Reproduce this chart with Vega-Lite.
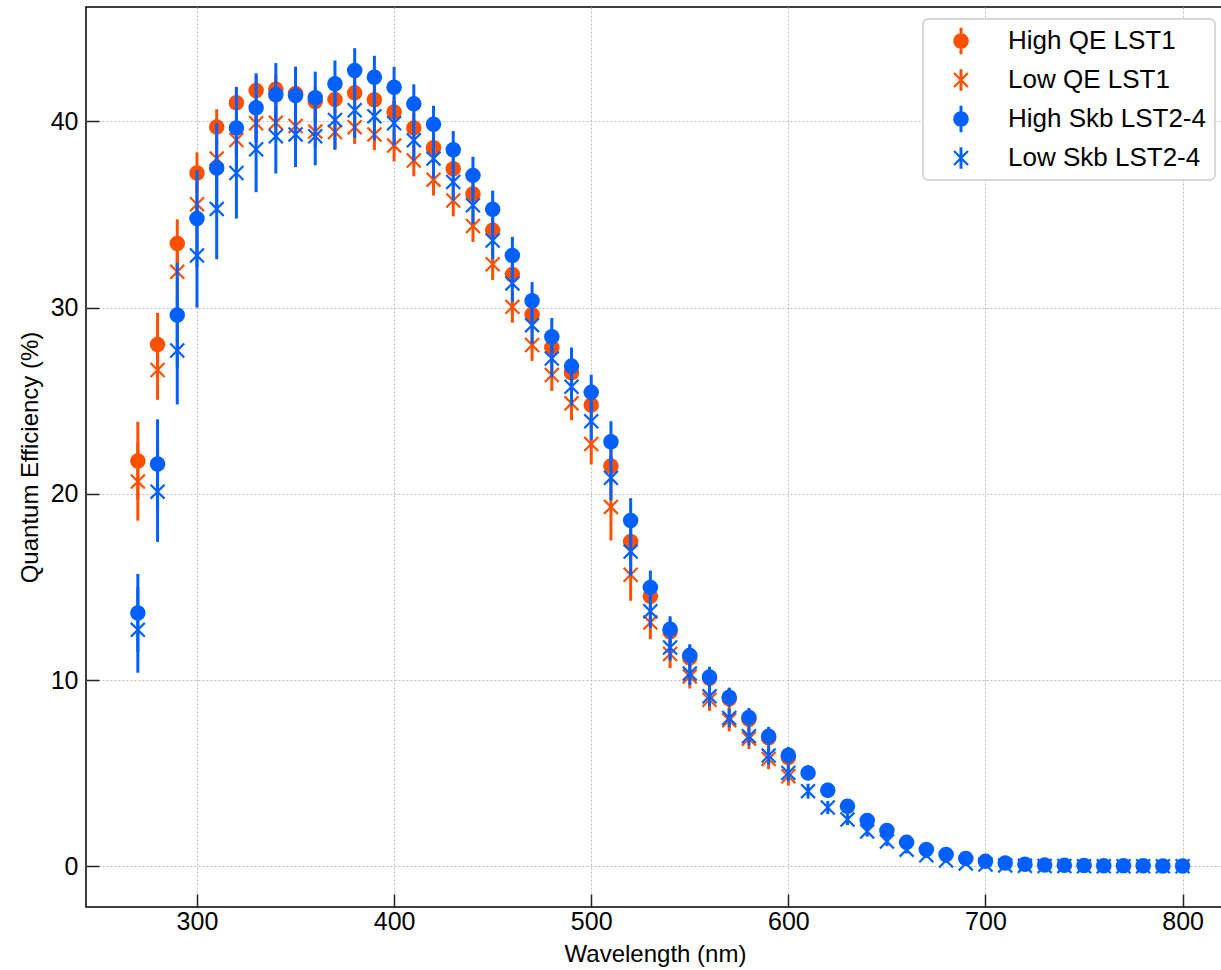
{
  "$schema": "https://vega.github.io/schema/vega-lite/v6.json",
  "autosize": "none",
  "padding": {"left": 86, "top": 7, "right": 0, "bottom": 63},
  "width": 1138,
  "height": 900,
  "background": "white",
  "config": {
    "font": "Liberation Sans",
    "view": {"stroke": "black", "strokeWidth": 1.5},
    "axis": {
      "domain": false,
      "grid": true,
      "gridColor": "#bdbdbd",
      "gridDash": [2, 2],
      "gridWidth": 1,
      "tickColor": "#222222",
      "tickWidth": 1.5,
      "tickSize": -13,
      "labelFontSize": 25,
      "labelColor": "black",
      "titleFontSize": 24,
      "titleFontWeight": "normal",
      "titleColor": "black"
    },
    "legend": {
      "orient": "none",
      "legendX": 837,
      "legendY": 12,
      "title": null,
      "labelFontSize": 26,
      "labelColor": "black",
      "labelLimit": 400,
      "symbolSize": 240,
      "symbolStrokeWidth": 0,
      "padding": 9,
      "rowPadding": 12,
      "symbolOffset": 16,
      "labelOffset": 34,
      "strokeColor": "#cccccc",
      "strokeWidth": 1.5,
      "cornerRadius": 5,
      "fillColor": "white"
    }
  },
  "data": {
    "values": [
      {"series": "High QE LST1", "wl": 270, "qe": 21.77, "err": 2.1},
      {"series": "High QE LST1", "wl": 280, "qe": 28.02, "err": 1.7},
      {"series": "High QE LST1", "wl": 290, "qe": 33.44, "err": 1.3},
      {"series": "High QE LST1", "wl": 300, "qe": 37.23, "err": 1.1},
      {"series": "High QE LST1", "wl": 310, "qe": 39.7, "err": 0.95},
      {"series": "High QE LST1", "wl": 320, "qe": 41.0, "err": 0.85},
      {"series": "High QE LST1", "wl": 330, "qe": 41.66, "err": 0.8},
      {"series": "High QE LST1", "wl": 340, "qe": 41.73, "err": 0.8},
      {"series": "High QE LST1", "wl": 350, "qe": 41.5, "err": 0.8},
      {"series": "High QE LST1", "wl": 360, "qe": 41.07, "err": 0.8},
      {"series": "High QE LST1", "wl": 370, "qe": 41.18, "err": 0.8},
      {"series": "High QE LST1", "wl": 380, "qe": 41.53, "err": 0.8},
      {"series": "High QE LST1", "wl": 390, "qe": 41.16, "err": 0.8},
      {"series": "High QE LST1", "wl": 400, "qe": 40.5, "err": 0.8},
      {"series": "High QE LST1", "wl": 410, "qe": 39.65, "err": 0.8},
      {"series": "High QE LST1", "wl": 420, "qe": 38.58, "err": 0.8},
      {"series": "High QE LST1", "wl": 430, "qe": 37.46, "err": 0.8},
      {"series": "High QE LST1", "wl": 440, "qe": 36.1, "err": 0.8},
      {"series": "High QE LST1", "wl": 450, "qe": 34.15, "err": 0.8},
      {"series": "High QE LST1", "wl": 460, "qe": 31.78, "err": 0.8},
      {"series": "High QE LST1", "wl": 470, "qe": 29.63, "err": 0.8},
      {"series": "High QE LST1", "wl": 480, "qe": 27.86, "err": 0.8},
      {"series": "High QE LST1", "wl": 490, "qe": 26.5, "err": 0.8},
      {"series": "High QE LST1", "wl": 500, "qe": 24.77, "err": 0.8},
      {"series": "High QE LST1", "wl": 510, "qe": 21.5, "err": 0.9},
      {"series": "High QE LST1", "wl": 520, "qe": 17.44, "err": 1.0},
      {"series": "High QE LST1", "wl": 530, "qe": 14.5, "err": 0.8},
      {"series": "High QE LST1", "wl": 540, "qe": 12.6, "err": 0.7},
      {"series": "High QE LST1", "wl": 550, "qe": 11.2, "err": 0.65},
      {"series": "High QE LST1", "wl": 560, "qe": 10.1, "err": 0.6},
      {"series": "High QE LST1", "wl": 570, "qe": 9.0, "err": 0.6},
      {"series": "High QE LST1", "wl": 580, "qe": 7.9, "err": 0.55},
      {"series": "High QE LST1", "wl": 590, "qe": 6.9, "err": 0.55},
      {"series": "High QE LST1", "wl": 600, "qe": 5.85, "err": 0.5},

      {"series": "Low QE LST1", "wl": 270, "qe": 20.66, "err": 2.1},
      {"series": "Low QE LST1", "wl": 280, "qe": 26.65, "err": 1.6},
      {"series": "Low QE LST1", "wl": 290, "qe": 31.92, "err": 1.4},
      {"series": "Low QE LST1", "wl": 300, "qe": 35.55, "err": 1.2},
      {"series": "Low QE LST1", "wl": 310, "qe": 38.0, "err": 1.0},
      {"series": "Low QE LST1", "wl": 320, "qe": 39.0, "err": 0.9},
      {"series": "Low QE LST1", "wl": 330, "qe": 39.9, "err": 0.9},
      {"series": "Low QE LST1", "wl": 340, "qe": 39.93, "err": 0.9},
      {"series": "Low QE LST1", "wl": 350, "qe": 39.75, "err": 0.9},
      {"series": "Low QE LST1", "wl": 360, "qe": 39.45, "err": 0.9},
      {"series": "Low QE LST1", "wl": 370, "qe": 39.43, "err": 0.9},
      {"series": "Low QE LST1", "wl": 380, "qe": 39.69, "err": 0.9},
      {"series": "Low QE LST1", "wl": 390, "qe": 39.3, "err": 0.85},
      {"series": "Low QE LST1", "wl": 400, "qe": 38.7, "err": 0.85},
      {"series": "Low QE LST1", "wl": 410, "qe": 37.9, "err": 0.85},
      {"series": "Low QE LST1", "wl": 420, "qe": 36.87, "err": 0.85},
      {"series": "Low QE LST1", "wl": 430, "qe": 35.75, "err": 0.85},
      {"series": "Low QE LST1", "wl": 440, "qe": 34.38, "err": 0.85},
      {"series": "Low QE LST1", "wl": 450, "qe": 32.33, "err": 0.85},
      {"series": "Low QE LST1", "wl": 460, "qe": 30.04, "err": 0.85},
      {"series": "Low QE LST1", "wl": 470, "qe": 27.99, "err": 0.85},
      {"series": "Low QE LST1", "wl": 480, "qe": 26.38, "err": 0.85},
      {"series": "Low QE LST1", "wl": 490, "qe": 24.86, "err": 0.9},
      {"series": "Low QE LST1", "wl": 500, "qe": 22.68, "err": 1.1},
      {"series": "Low QE LST1", "wl": 510, "qe": 19.3, "err": 1.8},
      {"series": "Low QE LST1", "wl": 520, "qe": 15.66, "err": 1.4},
      {"series": "Low QE LST1", "wl": 530, "qe": 13.1, "err": 0.9},
      {"series": "Low QE LST1", "wl": 540, "qe": 11.4, "err": 0.75},
      {"series": "Low QE LST1", "wl": 550, "qe": 10.2, "err": 0.65},
      {"series": "Low QE LST1", "wl": 560, "qe": 8.95, "err": 0.6},
      {"series": "Low QE LST1", "wl": 570, "qe": 7.85, "err": 0.6},
      {"series": "Low QE LST1", "wl": 580, "qe": 6.85, "err": 0.55},
      {"series": "Low QE LST1", "wl": 590, "qe": 5.77, "err": 0.55},
      {"series": "Low QE LST1", "wl": 600, "qe": 4.84, "err": 0.5},

      {"series": "High Skb LST2-4", "wl": 270, "qe": 13.6, "err": 2.1},
      {"series": "High Skb LST2-4", "wl": 280, "qe": 21.6, "err": 2.4},
      {"series": "High Skb LST2-4", "wl": 290, "qe": 29.6, "err": 2.8},
      {"series": "High Skb LST2-4", "wl": 300, "qe": 34.78, "err": 2.6},
      {"series": "High Skb LST2-4", "wl": 310, "qe": 37.5, "err": 2.4},
      {"series": "High Skb LST2-4", "wl": 320, "qe": 39.64, "err": 2.2},
      {"series": "High Skb LST2-4", "wl": 330, "qe": 40.73, "err": 1.85},
      {"series": "High Skb LST2-4", "wl": 340, "qe": 41.43, "err": 1.7},
      {"series": "High Skb LST2-4", "wl": 350, "qe": 41.39, "err": 1.55},
      {"series": "High Skb LST2-4", "wl": 360, "qe": 41.27, "err": 1.4},
      {"series": "High Skb LST2-4", "wl": 370, "qe": 42.02, "err": 1.25},
      {"series": "High Skb LST2-4", "wl": 380, "qe": 42.73, "err": 1.2},
      {"series": "High Skb LST2-4", "wl": 390, "qe": 42.37, "err": 1.15},
      {"series": "High Skb LST2-4", "wl": 400, "qe": 41.83, "err": 1.1},
      {"series": "High Skb LST2-4", "wl": 410, "qe": 40.94, "err": 1.05},
      {"series": "High Skb LST2-4", "wl": 420, "qe": 39.84, "err": 1.0},
      {"series": "High Skb LST2-4", "wl": 430, "qe": 38.48, "err": 1.0},
      {"series": "High Skb LST2-4", "wl": 440, "qe": 37.1, "err": 1.0},
      {"series": "High Skb LST2-4", "wl": 450, "qe": 35.28, "err": 1.0},
      {"series": "High Skb LST2-4", "wl": 460, "qe": 32.8, "err": 1.0},
      {"series": "High Skb LST2-4", "wl": 470, "qe": 30.37, "err": 1.0},
      {"series": "High Skb LST2-4", "wl": 480, "qe": 28.44, "err": 1.0},
      {"series": "High Skb LST2-4", "wl": 490, "qe": 26.86, "err": 1.0},
      {"series": "High Skb LST2-4", "wl": 500, "qe": 25.45, "err": 0.95},
      {"series": "High Skb LST2-4", "wl": 510, "qe": 22.8, "err": 1.1},
      {"series": "High Skb LST2-4", "wl": 520, "qe": 18.57, "err": 1.2},
      {"series": "High Skb LST2-4", "wl": 530, "qe": 14.98, "err": 0.9},
      {"series": "High Skb LST2-4", "wl": 540, "qe": 12.73, "err": 0.7},
      {"series": "High Skb LST2-4", "wl": 550, "qe": 11.33, "err": 0.6},
      {"series": "High Skb LST2-4", "wl": 560, "qe": 10.17, "err": 0.55},
      {"series": "High Skb LST2-4", "wl": 570, "qe": 9.08, "err": 0.5},
      {"series": "High Skb LST2-4", "wl": 580, "qe": 8.0, "err": 0.5},
      {"series": "High Skb LST2-4", "wl": 590, "qe": 6.99, "err": 0.5},
      {"series": "High Skb LST2-4", "wl": 600, "qe": 5.97, "err": 0.45},
      {"series": "High Skb LST2-4", "wl": 610, "qe": 5.02, "err": 0.4},
      {"series": "High Skb LST2-4", "wl": 620, "qe": 4.09, "err": 0.4},
      {"series": "High Skb LST2-4", "wl": 630, "qe": 3.23, "err": 0.35},
      {"series": "High Skb LST2-4", "wl": 640, "qe": 2.47, "err": 0.3},
      {"series": "High Skb LST2-4", "wl": 650, "qe": 1.93, "err": 0.25},
      {"series": "High Skb LST2-4", "wl": 660, "qe": 1.29, "err": 0.2},
      {"series": "High Skb LST2-4", "wl": 670, "qe": 0.91, "err": 0.2},
      {"series": "High Skb LST2-4", "wl": 680, "qe": 0.64, "err": 0.15},
      {"series": "High Skb LST2-4", "wl": 690, "qe": 0.43, "err": 0.12},
      {"series": "High Skb LST2-4", "wl": 700, "qe": 0.27, "err": 0.1},
      {"series": "High Skb LST2-4", "wl": 710, "qe": 0.18, "err": 0.08},
      {"series": "High Skb LST2-4", "wl": 720, "qe": 0.12, "err": 0.07},
      {"series": "High Skb LST2-4", "wl": 730, "qe": 0.08, "err": 0.06},
      {"series": "High Skb LST2-4", "wl": 740, "qe": 0.06, "err": 0.06},
      {"series": "High Skb LST2-4", "wl": 750, "qe": 0.05, "err": 0.05},
      {"series": "High Skb LST2-4", "wl": 760, "qe": 0.04, "err": 0.05},
      {"series": "High Skb LST2-4", "wl": 770, "qe": 0.03, "err": 0.05},
      {"series": "High Skb LST2-4", "wl": 780, "qe": 0.03, "err": 0.05},
      {"series": "High Skb LST2-4", "wl": 790, "qe": 0.02, "err": 0.05},
      {"series": "High Skb LST2-4", "wl": 800, "qe": 0.02, "err": 0.05},

      {"series": "Low Skb LST2-4", "wl": 270, "qe": 12.7, "err": 2.3},
      {"series": "Low Skb LST2-4", "wl": 280, "qe": 20.12, "err": 2.7},
      {"series": "Low Skb LST2-4", "wl": 290, "qe": 27.7, "err": 2.9},
      {"series": "Low Skb LST2-4", "wl": 300, "qe": 32.8, "err": 2.8},
      {"series": "Low Skb LST2-4", "wl": 310, "qe": 35.3, "err": 2.7},
      {"series": "Low Skb LST2-4", "wl": 320, "qe": 37.23, "err": 2.45},
      {"series": "Low Skb LST2-4", "wl": 330, "qe": 38.5, "err": 2.3},
      {"series": "Low Skb LST2-4", "wl": 340, "qe": 39.2, "err": 2.0},
      {"series": "Low Skb LST2-4", "wl": 350, "qe": 39.3, "err": 1.75},
      {"series": "Low Skb LST2-4", "wl": 360, "qe": 39.2, "err": 1.56},
      {"series": "Low Skb LST2-4", "wl": 370, "qe": 40.07, "err": 1.6},
      {"series": "Low Skb LST2-4", "wl": 380, "qe": 40.6, "err": 1.5},
      {"series": "Low Skb LST2-4", "wl": 390, "qe": 40.27, "err": 1.3},
      {"series": "Low Skb LST2-4", "wl": 400, "qe": 39.9, "err": 1.2},
      {"series": "Low Skb LST2-4", "wl": 410, "qe": 38.98, "err": 1.1},
      {"series": "Low Skb LST2-4", "wl": 420, "qe": 38.0, "err": 1.05},
      {"series": "Low Skb LST2-4", "wl": 430, "qe": 36.75, "err": 1.0},
      {"series": "Low Skb LST2-4", "wl": 440, "qe": 35.5, "err": 1.0},
      {"series": "Low Skb LST2-4", "wl": 450, "qe": 33.6, "err": 1.0},
      {"series": "Low Skb LST2-4", "wl": 460, "qe": 31.3, "err": 1.0},
      {"series": "Low Skb LST2-4", "wl": 470, "qe": 29.06, "err": 1.0},
      {"series": "Low Skb LST2-4", "wl": 480, "qe": 27.27, "err": 1.0},
      {"series": "Low Skb LST2-4", "wl": 490, "qe": 25.75, "err": 1.0},
      {"series": "Low Skb LST2-4", "wl": 500, "qe": 23.9, "err": 1.0},
      {"series": "Low Skb LST2-4", "wl": 510, "qe": 20.86, "err": 1.2},
      {"series": "Low Skb LST2-4", "wl": 520, "qe": 16.9, "err": 1.3},
      {"series": "Low Skb LST2-4", "wl": 530, "qe": 13.7, "err": 0.9},
      {"series": "Low Skb LST2-4", "wl": 540, "qe": 11.75, "err": 0.7},
      {"series": "Low Skb LST2-4", "wl": 550, "qe": 10.35, "err": 0.6},
      {"series": "Low Skb LST2-4", "wl": 560, "qe": 9.13, "err": 0.55},
      {"series": "Low Skb LST2-4", "wl": 570, "qe": 7.97, "err": 0.5},
      {"series": "Low Skb LST2-4", "wl": 580, "qe": 6.99, "err": 0.5},
      {"series": "Low Skb LST2-4", "wl": 590, "qe": 5.95, "err": 0.5},
      {"series": "Low Skb LST2-4", "wl": 600, "qe": 5.02, "err": 0.45},
      {"series": "Low Skb LST2-4", "wl": 610, "qe": 4.04, "err": 0.4},
      {"series": "Low Skb LST2-4", "wl": 620, "qe": 3.16, "err": 0.35},
      {"series": "Low Skb LST2-4", "wl": 630, "qe": 2.52, "err": 0.3},
      {"series": "Low Skb LST2-4", "wl": 640, "qe": 1.88, "err": 0.28},
      {"series": "Low Skb LST2-4", "wl": 650, "qe": 1.34, "err": 0.25},
      {"series": "Low Skb LST2-4", "wl": 660, "qe": 0.9, "err": 0.2},
      {"series": "Low Skb LST2-4", "wl": 670, "qe": 0.6, "err": 0.15},
      {"series": "Low Skb LST2-4", "wl": 680, "qe": 0.32, "err": 0.12},
      {"series": "Low Skb LST2-4", "wl": 690, "qe": 0.16, "err": 0.1},
      {"series": "Low Skb LST2-4", "wl": 700, "qe": 0.1, "err": 0.08},
      {"series": "Low Skb LST2-4", "wl": 710, "qe": 0.05, "err": 0.06},
      {"series": "Low Skb LST2-4", "wl": 720, "qe": 0.03, "err": 0.05},
      {"series": "Low Skb LST2-4", "wl": 730, "qe": 0.02, "err": 0.05},
      {"series": "Low Skb LST2-4", "wl": 740, "qe": 0.02, "err": 0.05},
      {"series": "Low Skb LST2-4", "wl": 750, "qe": 0.01, "err": 0.05},
      {"series": "Low Skb LST2-4", "wl": 760, "qe": 0.01, "err": 0.05},
      {"series": "Low Skb LST2-4", "wl": 770, "qe": 0.01, "err": 0.05},
      {"series": "Low Skb LST2-4", "wl": 780, "qe": 0.01, "err": 0.05},
      {"series": "Low Skb LST2-4", "wl": 790, "qe": 0.01, "err": 0.05},
      {"series": "Low Skb LST2-4", "wl": 800, "qe": 0.01, "err": 0.05}
    ]
  },
  "encoding": {
    "x": {
      "field": "wl",
      "type": "quantitative",
      "scale": {"domain": [243.7, 821], "nice": false, "zero": false},
      "axis": {
        "title": "Wavelength (nm)",
        "values": [300, 400, 500, 600, 700, 800],
        "labelPadding": 15,
        "titlePadding": 8
      }
    },
    "y": {
      "field": "qe",
      "type": "quantitative",
      "scale": {"domain": [-2.18, 46.14], "nice": false, "zero": false},
      "axis": {
        "title": "Quantum Efficiency (%)",
        "values": [0, 10, 20, 30, 40],
        "labelPadding": 21,
        "titlePadding": 8
      }
    },
    "color": {
      "field": "series",
      "type": "nominal",
      "scale": {
        "domain": ["High QE LST1", "Low QE LST1", "High Skb LST2-4", "Low Skb LST2-4"],
        "range": ["#ff5000", "#ff5000", "#005fff", "#005fff"]
      }
    }
  },
  "layer": [
    {
      "transform": [{"filter": "datum.series === 'High QE LST1'"}],
      "layer": [
        {"mark": {"type": "errorbar", "ticks": false, "thickness": 3}, "encoding": {"yError": {"field": "err"}}},
        {"mark": {"type": "point", "shape": "circle", "filled": true, "opacity": 1, "size": 240, "strokeWidth": 0}}
      ]
    },
    {
      "transform": [{"filter": "datum.series === 'Low QE LST1'"}],
      "layer": [
        {"mark": {"type": "errorbar", "ticks": false, "thickness": 3}, "encoding": {"yError": {"field": "err"}}},
        {"mark": {"type": "point", "shape": "M0,-0.2L0.8,-1L1,-0.8L0.2,0L1,0.8L0.8,1L0,0.2L-0.8,1L-1,0.8L-0.2,0L-1,-0.8L-0.8,-1Z", "filled": true, "opacity": 1, "size": 240, "strokeWidth": 0}}
      ]
    },
    {
      "transform": [{"filter": "datum.series === 'High Skb LST2-4'"}],
      "layer": [
        {"mark": {"type": "errorbar", "ticks": false, "thickness": 3}, "encoding": {"yError": {"field": "err"}}},
        {"mark": {"type": "point", "shape": "circle", "filled": true, "opacity": 1, "size": 240, "strokeWidth": 0}}
      ]
    },
    {
      "transform": [{"filter": "datum.series === 'Low Skb LST2-4'"}],
      "layer": [
        {"mark": {"type": "errorbar", "ticks": false, "thickness": 3}, "encoding": {"yError": {"field": "err"}}},
        {"mark": {"type": "point", "shape": "M0,-0.2L0.8,-1L1,-0.8L0.2,0L1,0.8L0.8,1L0,0.2L-0.8,1L-1,0.8L-0.2,0L-1,-0.8L-0.8,-1Z", "filled": true, "opacity": 1, "size": 240, "strokeWidth": 0}}
      ]
    },
    {
      "transform": [{"filter": "false"}],
      "mark": {"type": "point", "filled": true, "opacity": 1, "size": 240, "strokeWidth": 0},
      "encoding": {
        "shape": {
          "field": "series",
          "type": "nominal",
          "scale": {
            "domain": ["High QE LST1", "Low QE LST1", "High Skb LST2-4", "Low Skb LST2-4"],
            "range": [
              "M-1,0A1,1 0 1,1 1,0A1,1 0 1,1 -1,0ZM-0.19,-1.7L0.19,-1.7L0.19,1.7L-0.19,1.7Z",
              "M0,-0.2L0.8,-1L1,-0.8L0.2,0L1,0.8L0.8,1L0,0.2L-0.8,1L-1,0.8L-0.2,0L-1,-0.8L-0.8,-1ZM-0.19,-1.4L0.19,-1.4L0.19,1.4L-0.19,1.4Z",
              "M-1,0A1,1 0 1,1 1,0A1,1 0 1,1 -1,0ZM-0.19,-1.7L0.19,-1.7L0.19,1.7L-0.19,1.7Z",
              "M0,-0.2L0.8,-1L1,-0.8L0.2,0L1,0.8L0.8,1L0,0.2L-0.8,1L-1,0.8L-0.2,0L-1,-0.8L-0.8,-1ZM-0.19,-1.4L0.19,-1.4L0.19,1.4L-0.19,1.4Z"
            ]
          }
        }
      }
    }
  ]
}
